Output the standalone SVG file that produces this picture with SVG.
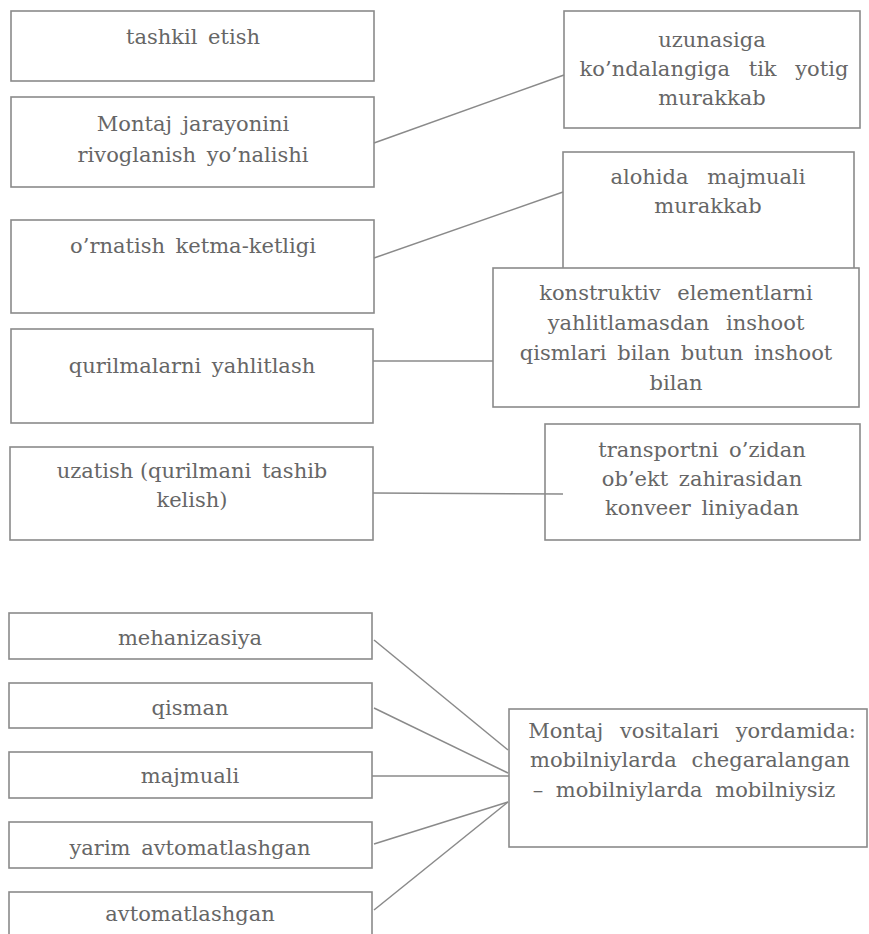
<svg xmlns="http://www.w3.org/2000/svg" width="869" height="934" viewBox="0 0 869 934">
<style>
  .box { fill: #ffffff; stroke: #8a8a8a; stroke-width: 1.6; }
  .lbl { font-family: "DejaVu Serif", "Liberation Serif", serif; font-size: 21px; fill: #666666; text-anchor: middle; word-spacing: 4px; }
  .conn line { stroke: #8a8a8a; stroke-width: 1.5; fill: none; }
</style>
<rect width="869" height="934" fill="#ffffff"/>

<g id="tashkil">
  <rect class="box" x="11" y="11" width="363" height="70"/>
  <text class="lbl" x="193" y="44">tashkil etish</text>
</g>
<g id="montaj-yonalishi">
  <rect class="box" x="11" y="97" width="363" height="90"/>
  <text class="lbl" x="193" y="131">Montaj jarayonini</text>
  <text class="lbl" x="193" y="162">rivoglanish yo’nalishi</text>
</g>
<g id="ornatish">
  <rect class="box" x="11" y="220" width="363" height="93"/>
  <text class="lbl" x="193" y="253">o’rnatish ketma-ketligi</text>
</g>
<g id="yahlitlash">
  <rect class="box" x="11" y="329" width="362" height="94"/>
  <text class="lbl" x="192" y="373">qurilmalarni yahlitlash</text>
</g>
<g id="uzatish">
  <rect class="box" x="10" y="447" width="363" height="93"/>
  <text class="lbl" x="192" y="478"><tspan style="word-spacing:0px">uzatish (qurilmani</tspan> tashib</text>
  <text class="lbl" x="192" y="507">kelish)</text>
</g>

<g id="uzunasiga">
  <rect class="box" x="564" y="11" width="296" height="117"/>
  <text class="lbl" x="712" y="47">uzunasiga</text>
  <text class="lbl" x="714" y="76" style="word-spacing:12px">ko’ndalangiga tik yotig</text>
  <text class="lbl" x="712" y="105">murakkab</text>
</g>
<g id="alohida">
  <rect class="box" x="563" y="152" width="291" height="130"/>
  <text class="lbl" x="708" y="184" style="word-spacing:12px">alohida majmuali</text>
  <text class="lbl" x="708" y="213">murakkab</text>
</g>
<g id="konstruktiv">
  <rect class="box" x="493" y="268" width="366" height="139"/>
  <text class="lbl" x="676" y="300" style="word-spacing:10px">konstruktiv elementlarni</text>
  <text class="lbl" x="676" y="330" style="word-spacing:10px">yahlitlamasdan inshoot</text>
  <text class="lbl" x="676" y="360">qismlari bilan butun inshoot</text>
  <text class="lbl" x="676" y="390">bilan</text>
</g>
<g id="transport">
  <rect class="box" x="545" y="424" width="315" height="116"/>
  <text class="lbl" x="702" y="457">transportni o’zidan</text>
  <text class="lbl" x="702" y="486">ob’ekt zahirasidan</text>
  <text class="lbl" x="702" y="515">konveer liniyadan</text>
</g>

<g id="mehanizasiya">
  <rect class="box" x="9" y="613" width="363" height="46"/>
  <text class="lbl" x="190" y="645">mehanizasiya</text>
</g>
<g id="qisman">
  <rect class="box" x="9" y="683" width="363" height="45"/>
  <text class="lbl" x="190" y="715">qisman</text>
</g>
<g id="majmuali">
  <rect class="box" x="9" y="752" width="363" height="46"/>
  <text class="lbl" x="190" y="783">majmuali</text>
</g>
<g id="yarim-avtomatlashgan">
  <rect class="box" x="9" y="822" width="363" height="46"/>
  <text class="lbl" x="190" y="855">yarim avtomatlashgan</text>
</g>
<g id="avtomatlashgan">
  <rect class="box" x="9" y="892" width="363" height="60"/>
  <text class="lbl" x="190" y="921">avtomatlashgan</text>
</g>
<g id="montaj-vositalari">
  <rect class="box" x="509" y="709" width="358" height="138"/>
  <text class="lbl" x="692" y="738" style="word-spacing:10px">Montaj vositalari yordamida:</text>
  <text class="lbl" x="690" y="767" style="word-spacing:8px">mobilniylarda chegaralangan</text>
  <text class="lbl" x="684" y="797" style="word-spacing:6px">– mobilniylarda mobilniysiz</text>
</g>

<g id="connectors" class="conn">
  <line x1="374" y1="143" x2="564" y2="75"/>
  <line x1="374" y1="258" x2="563" y2="192"/>
  <line x1="373" y1="361" x2="493" y2="361"/>
  <line x1="373" y1="493" x2="563" y2="494"/>
  <line x1="374" y1="640" x2="508" y2="750"/>
  <line x1="374" y1="708" x2="508" y2="773"/>
  <line x1="372" y1="776" x2="509" y2="776"/>
  <line x1="374" y1="844" x2="508" y2="802"/>
  <line x1="374" y1="910" x2="508" y2="802"/>
</g>
</svg>
